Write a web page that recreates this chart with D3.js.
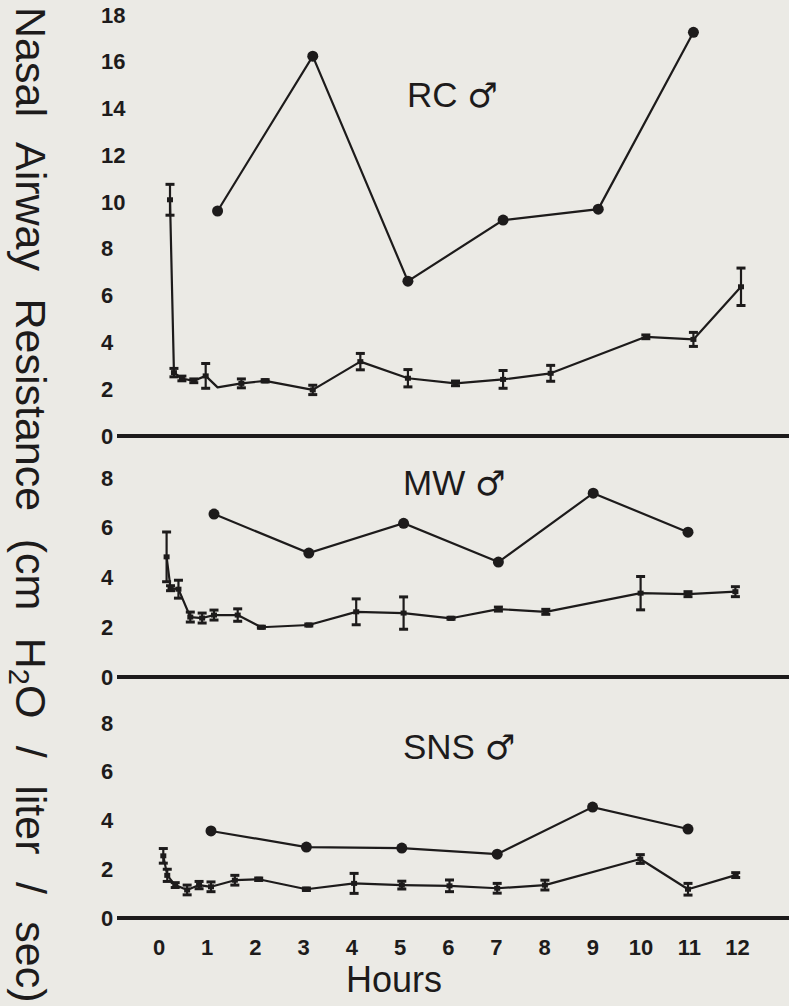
<!DOCTYPE html>
<html>
<head>
<meta charset="utf-8">
<script src="https://cdn.jsdelivr.net/npm/d3@7"></script>
<style>
  html, body { margin: 0; padding: 0; background: #ebeae5; }
  svg { display: block; }
</style>
</head>
<body>
<svg id="chart" width="789" height="1006"></svg>
<script>
// ---------- DATA ----------
const hourTicks = [0,1,2,3,4,5,6,7,8,9,10,11,12];
const dotTimes  = [1, 3, 5, 7, 9, 11];
const meanTimes = [0, 0.083, 0.25, 0.5, 0.75, 1, 1.5, 2, 3, 4, 5, 6, 7, 8, 10, 11, 12];

const rcDots  = [9.62, 16.24, 6.62, 9.23, 9.70, 17.26];
const rcMean  = [10.1, 2.71, 2.46, 2.36, 2.57, 2.08, 2.25, 2.36, 1.97, 3.18, 2.47, 2.25, 2.42, 2.68, 4.24, 4.13, 6.38];
const rcErr   = [0.66, 0.18, 0.10, 0.08, 0.53, 0.00, 0.19, 0.05, 0.20, 0.35, 0.37, 0.10, 0.38, 0.34, 0.08, 0.30, 0.80];

const mwDots  = [6.55, 4.98, 6.18, 4.62, 7.39, 5.82];
const mwMean  = [4.83, 3.57, 3.53, 2.41, 2.37, 2.49, 2.49, 2.00, 2.09, 2.62, 2.57, 2.36, 2.73, 2.62, 3.37, 3.33, 3.43];
const mwErr   = [1.00, 0.10, 0.36, 0.20, 0.20, 0.20, 0.25, 0.04, 0.04, 0.52, 0.65, 0.04, 0.08, 0.10, 0.67, 0.10, 0.20];

const snsDots = [3.57, 2.91, 2.87, 2.62, 4.55, 3.65];
const snsMean = [2.55, 1.75, 1.35, 1.15, 1.35, 1.28, 1.55, 1.59, 1.18, 1.42, 1.35, 1.32, 1.22, 1.35, 2.42, 1.18, 1.76];
const snsErr  = [0.30, 0.25, 0.10, 0.20, 0.15, 0.20, 0.20, 0.05, 0.05, 0.41, 0.16, 0.24, 0.20, 0.20, 0.18, 0.24, 0.10];

const rcTicks  = [0,2,4,6,8,10,12,14,16,18];
const mwTicks  = [0,2,4,6,8];
const snsTicks = [0,2,4,6,8];

const panelNames = ["RC", "MW", "SNS"];
const maleSign = "\u2642";
const yTitle = ["Nasal Airway Resistance (cm H", "2", "O / liter / sec)"];
const xTitle = "Hours";

// ---------- STYLE / LAYOUT ----------
const ink = "#1d1b1b";
const paper = "#ebeae5";
const sans = "'Liberation Sans', Arial, sans-serif";

const panels = [
  { name: panelNames[0], dots: rcDots,  mean: rcMean,  err: rcErr,  ticks: rcTicks,  yMax: 18, yRange: [436, 15],  xRange: [170, 741],   label: [407, 107] },
  { name: panelNames[1], dots: mwDots,  mean: mwMean,  err: mwErr,  ticks: mwTicks,  yMax: 8,  yRange: [677, 478], xRange: [166.6, 735.4], label: [403, 495] },
  { name: panelNames[2], dots: snsDots, mean: snsMean, err: snsErr, ticks: snsTicks, yMax: 8,  yRange: [918, 723], xRange: [163.3, 735.7], label: [403, 759] }
];

const svg = d3.select("#chart");
svg.append("rect").attr("width", 789).attr("height", 1006).attr("fill", paper);

panels.forEach(p => {
  const x = d3.scaleLinear().domain([0, 12]).range(p.xRange);
  const y = d3.scaleLinear().domain([0, p.yMax]).range(p.yRange);
  const g = svg.append("g");

  // baseline (zero line)
  g.append("line")
    .attr("x1", 117).attr("x2", 789)
    .attr("y1", y(0)).attr("y2", y(0))
    .attr("stroke", ink).attr("stroke-width", 4);

  // y tick labels
  const ax = g.append("g")
    .call(d3.axisLeft(y).tickValues(p.ticks).tickSize(0).tickFormat(d3.format("d")));
  ax.select(".domain").remove();
  ax.attr("font-family", sans).attr("font-size", 22).attr("font-weight", "bold");
  ax.selectAll("text").attr("x", 101).attr("text-anchor", "start").attr("fill", ink);

  // mean series
  const md = meanTimes.map((t, i) => ({ t, v: p.mean[i], e: p.err[i] }));
  g.append("path")
    .datum(md)
    .attr("fill", "none").attr("stroke", ink).attr("stroke-width", 2.2)
    .attr("stroke-linejoin", "round")
    .attr("d", d3.line().x(d => x(d.t)).y(d => y(d.v)));

  const eb = g.selectAll(".eb").data(md.filter(d => d.e > 0)).join("g").attr("class", "eb");
  eb.append("line")
    .attr("x1", d => x(d.t)).attr("x2", d => x(d.t))
    .attr("y1", d => y(d.v - d.e)).attr("y2", d => y(d.v + d.e))
    .attr("stroke", ink).attr("stroke-width", 2.2);
  eb.append("line")
    .attr("x1", d => x(d.t) - 4.5).attr("x2", d => x(d.t) + 4.5)
    .attr("y1", d => y(d.v + d.e)).attr("y2", d => y(d.v + d.e))
    .attr("stroke", ink).attr("stroke-width", 3);
  eb.append("line")
    .attr("x1", d => x(d.t) - 4.5).attr("x2", d => x(d.t) + 4.5)
    .attr("y1", d => y(d.v - d.e)).attr("y2", d => y(d.v - d.e))
    .attr("stroke", ink).attr("stroke-width", 3);
  g.selectAll(".mk").data(md.filter(d => d.e > 0)).join("rect").attr("class", "mk")
    .attr("x", d => x(d.t) - 3).attr("y", d => y(d.v) - 2.5)
    .attr("width", 6).attr("height", 5).attr("fill", ink);

  // dot series
  const dd = dotTimes.map((t, i) => ({ t, v: p.dots[i] }));
  g.append("path")
    .datum(dd)
    .attr("fill", "none").attr("stroke", ink).attr("stroke-width", 2.2)
    .attr("d", d3.line().x(d => x(d.t)).y(d => y(d.v)));
  g.selectAll(".dot").data(dd).join("circle").attr("class", "dot")
    .attr("cx", d => x(d.t)).attr("cy", d => y(d.v)).attr("r", 5.5).attr("fill", ink);

  // panel label
  const lt = g.append("text")
    .attr("x", p.label[0]).attr("y", p.label[1])
    .attr("font-family", sans).attr("font-size", 35).attr("fill", ink);
  lt.append("tspan").text(p.name + " ");
  lt.append("tspan").attr("font-family", "'DejaVu Sans', sans-serif").attr("font-size", 34).attr("font-weight", "bold").text(maleSign);
});

// x axis labels
const xLab = d3.scaleLinear().domain([0, 12]).range([158.5, 737]);
const xa = svg.append("g").attr("transform", "translate(0,936)")
  .call(d3.axisBottom(xLab).tickValues(hourTicks).tickSize(0).tickPadding(3).tickFormat(d3.format("d")));
xa.select(".domain").remove();
xa.attr("font-family", sans).attr("font-size", 22).attr("font-weight", "bold");
xa.selectAll("text").attr("fill", ink);

svg.append("text")
  .attr("x", 394).attr("y", 992)
  .attr("text-anchor", "middle")
  .attr("font-family", sans).attr("font-size", 36).attr("fill", ink)
  .text(xTitle);

// y title (rotated)
const yt = svg.append("text")
  .attr("transform", "translate(16,7) rotate(90)")
  .attr("font-family", sans).attr("font-size", 43).attr("fill", ink)
  .attr("word-spacing", 15.5);
yt.append("tspan").text(yTitle[0]);
yt.append("tspan").attr("font-size", 29).attr("dy", 7).text(yTitle[1]);
yt.append("tspan").attr("dy", -7).text(yTitle[2]);
</script>
</body>
</html>
